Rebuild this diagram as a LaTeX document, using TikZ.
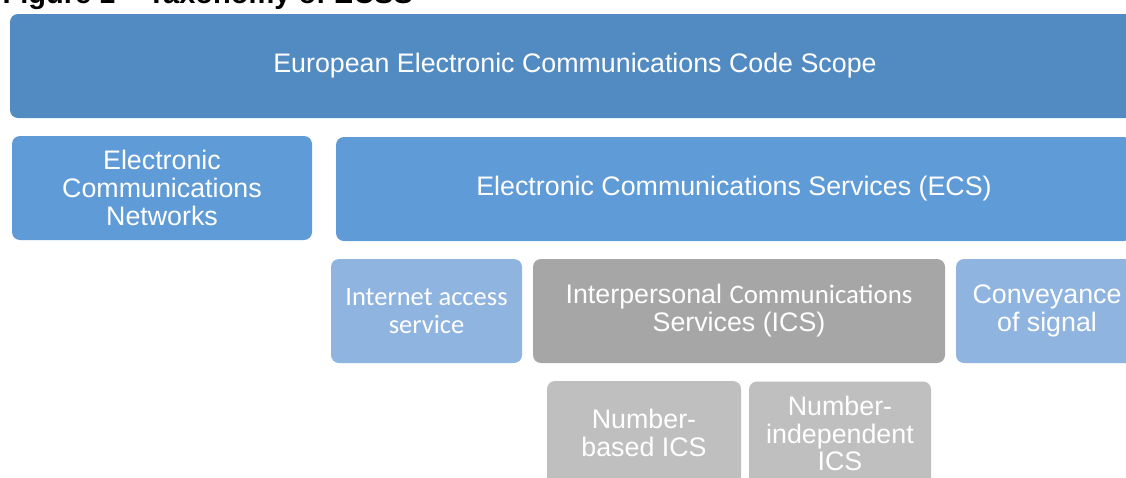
\documentclass[tikz,border=0pt]{standalone}
\usepackage{fontspec}
\setmainfont{Liberation Sans}
\newfontfamily\calibri{Carlito}
\usepackage{tikz}

\definecolor{scopeblue}{RGB}{82,139,194}
\definecolor{ecsblue}{RGB}{95,155,214}
\definecolor{subblue}{RGB}{143,180,224}
\definecolor{icsgrey}{RGB}{166,166,166}
\definecolor{leafgrey}{RGB}{191,191,191}

\tikzstyle{box}=[rounded corners=8pt, inner sep=0pt, minimum height=104pt, align=center,
                 text=white, font=\fontsize{26.8}{28}\selectfont]
\tikzstyle{scope}=[box, fill=scopeblue]
\tikzstyle{level}=[box, fill=ecsblue]
\tikzstyle{service}=[box, fill=subblue]
\tikzstyle{ics}=[box, fill=icsgrey]
\tikzstyle{leaf}=[box, fill=leafgrey, font=\fontsize{26.8}{27.5}\selectfont]

\begin{document}
\begin{tikzpicture}[x=1pt, y=-1pt]
                    \useasboundingbox (0, 0) rectangle (1126, 477);
                    \clip (0, 0) rectangle (1126, 477);
                    \node[anchor=base west, font=\fontsize{29}{30}\selectfont\bfseries] (title) at (-1, 3)
                        {Figure 1 -- Taxonomy of ECSS};
                    \node[scope, minimum width=1130pt] (eecc) at (575, 66)
                        {European Electronic Communications Code Scope};
                    \node[level, minimum width=300pt] (ecn) at (162, 188)
                        {Electronic\\Communications\\Networks};
                    \node[level, minimum width=796pt] (ecs) at (734, 189)
                        {Electronic Communications Services (ECS)};
                    \node[service, minimum width=191pt, font=\calibri\fontsize{26.5}{28}\selectfont] (ias) at (426.5, 311)
                        {Internet access\\service};
                    \node[ics, minimum width=412pt, font=\fontsize{26.8}{28}\selectfont] (ics) at (739, 311)
                        {Interpersonal {\calibri Communications}\\Services (ICS)};
                    \node[service, minimum width=182pt] (conv) at (1047, 311)
                        {Conveyance\\of signal};
                    \node[leaf, minimum width=194pt] (nbics) at (644, 433)
                        {Number-\\based ICS};
                    \node[leaf, minimum width=182pt] (niics) at (840, 433.5)
                        {Number-\\independent\\ICS};
                \end{tikzpicture}
\end{document}
